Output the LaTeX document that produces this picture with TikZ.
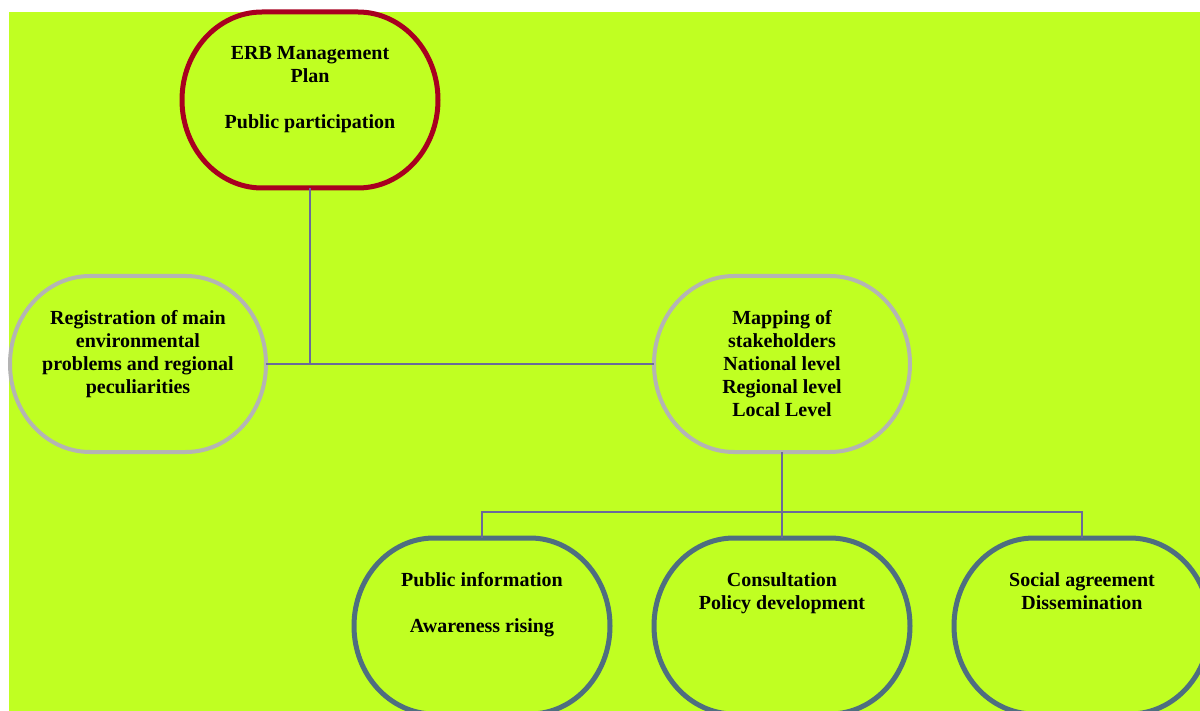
\documentclass[tikz,border=0pt]{standalone}
\usepackage{fontspec}
\setmainfont{Liberation Serif}
\usetikzlibrary{positioning}
\definecolor{bggreen}{RGB}{192,255,34}
\definecolor{planred}{RGB}{168,0,32}
\definecolor{mapgrey}{RGB}{180,180,180}
\definecolor{actblue}{RGB}{78,110,128}
\definecolor{linkviolet}{RGB}{106,106,154}

\begin{document}
\begin{tikzpicture}[x=0.5pt,y=-0.5pt,
  pill/.style={rectangle, minimum width=128pt, minimum height=88pt, inner sep=0pt, outer sep=0pt},
  txt/.style={anchor=north, align=center, inner sep=0pt, font=\bfseries\fontsize{10}{11.5}\selectfont},
  link/.style={draw=linkviolet, line width=1pt}]

  \useasboundingbox (0,0) rectangle (1200,711);
  \clip (0,0) rectangle (1200,711);
  \fill[bggreen] (9,12.5) rectangle (1200,711);

  \node[pill] (plan) at (310,100) {};
  \node[pill] (reg) at (138,364) {};
  \node[pill] (map) at (782,364) {};
  \node[pill] (info) at (482,626) {};
  \node[pill] (consult) at (782,626) {};
  \node[pill] (social) at (1082,626) {};

  \foreach \n/\c/\w in {plan/planred/2.5pt, reg/mapgrey/2pt, map/mapgrey/2pt,
                        info/actblue/2.5pt, consult/actblue/2.5pt, social/actblue/2.5pt}
    \draw[\c, line width=\w] (\n.center) ++(-48,-88) -- ++(96,0)
      arc[start angle=-90, end angle=90, x radius=80, y radius=88] -- ++(-96,0)
      arc[start angle=90, end angle=270, x radius=80, y radius=88] -- cycle;

  \node[txt] (plantxt) at (310,46) {ERB Management\\Plan\\[11.5pt]Public participation};
  \node[txt] (regtxt) at (138,310) {Registration of main\\environmental\\problems and regional\\peculiarities};
  \node[txt] (maptxt) at (782,310) {Mapping of\\stakeholders\\National level\\Regional level\\Local Level};
  \node[txt] (infotxt) at (482,572) {Public information\\[11.5pt]Awareness rising};
  \node[txt] (consulttxt) at (782,572) {Consultation\\Policy development};
  \node[txt] (socialtxt) at (1082,572) {Social agreement\\Dissemination};

  \coordinate (bus) at (482,512);

  \draw[link] (plan.south) -- (plan.south |- reg.east);
  \draw[link] (reg.east) -- (map.west);
  \draw[link] (map.south) -- (consult.north);
  \draw[link] (info.north) -- (bus) -| (social.north);
\end{tikzpicture}
\end{document}
